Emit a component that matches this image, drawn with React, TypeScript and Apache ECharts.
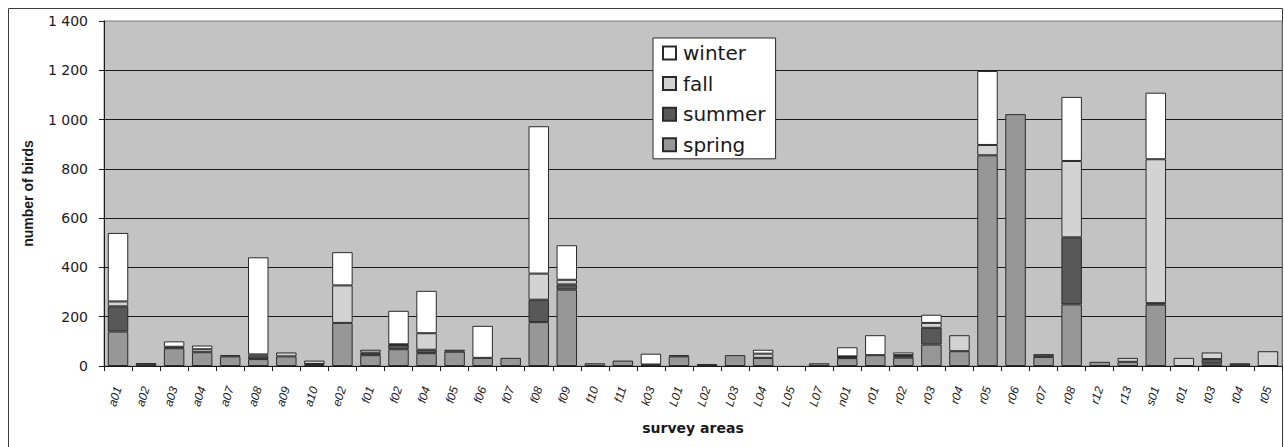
import React, { useEffect, useRef } from "react";
import * as echarts from "echarts";

const categories = [
  "a01", "a02", "a03", "a04", "a07", "a08", "a09", "a10", "e02", "f01",
  "f02", "f04", "f05", "f06", "f07", "f08", "f09", "f10", "f11", "k03",
  "L01", "L02", "L03", "L04", "L05", "L07", "n01", "r01", "r02", "r03",
  "r04", "r05", "r06", "r07", "r08", "r12", "r13", "s01", "t01", "t03",
  "t04", "t05",
];

const spring = [
  140, 2, 72, 56, 39, 28, 39, 4, 175, 44,
  68, 52, 58, 33, 33, 178, 310, 11, 22, 3,
  39, 3, 44, 33, 0, 11, 32, 44, 34, 87,
  60, 855, 1022, 37, 250, 17, 17, 249, 0, 10,
  2, 0,
];

const summer = [
  102, 10, 6, 0, 5, 11, 0, 4, 0, 10,
  17, 14, 8, 0, 0, 91, 21, 0, 0, 3,
  5, 5, 0, 0, 0, 0, 5, 0, 6, 68,
  0, 0, 0, 11, 272, 0, 0, 6, 0, 18,
  9, 0,
];

const fall = [
  20, 0, 0, 12, 0, 8, 16, 14, 152, 12,
  3, 67, 0, 0, 0, 106, 19, 0, 0, 0,
  0, 0, 0, 17, 0, 0, 2, 0, 4, 20,
  65, 42, 0, 0, 310, 0, 16, 584, 33, 27,
  0, 60,
];

const winter = [
  278, 0, 22, 15, 0, 394, 0, 0, 135, 0,
  136, 172, 0, 130, 0, 598, 140, 0, 0, 44,
  0, 0, 0, 16, 0, 0, 37, 81, 11, 33,
  0, 300, 0, 0, 260, 0, 0, 270, 0, 0,
  0, 0,
];

const seasonColors: Record<string, string> = {
  spring: "#979797",
  summer: "#585858",
  fall: "#d3d3d3",
  winter: "#ffffff",
};

export default function App() {
  const ref = useRef<HTMLDivElement>(null);

  useEffect(() => {
    if (!ref.current) return;
    const chart = echarts.init(ref.current, undefined, { renderer: "svg" });

    const mk = (name: string, values: number[]) => ({
      name,
      type: "bar",
      stack: "total",
      barCategoryGap: "27%",
      data: values.map((v) => (v === 0 ? null : v)),
      itemStyle: {
        color: seasonColors[name],
        borderColor: "#2a2a2a",
        borderWidth: 1,
      },
      emphasis: { disabled: true },
    });

    const option = {
      animation: false,
      backgroundColor: "#ffffff",
      graphic: [
        {
          type: "rect",
          shape: { x: 8.5, y: 8.5, width: 1274, height: 470 },
          style: { fill: "none", stroke: "#3a3a3a", lineWidth: 1 },
          silent: true,
          z: -1,
        },
      ],
      grid: {
        left: 104,
        top: 21,
        width: 1178,
        height: 345,
        show: true,
        backgroundColor: "#c3c3c3",
        borderColor: "#8a8a8a",
        borderWidth: 1,
      },
      legend: {
        orient: "vertical",
        left: 653,
        top: 38,
        data: ["winter", "fall", "summer", "spring"],
        itemWidth: 13,
        itemHeight: 13,
        itemGap: 10.6,
        icon: "rect",
        padding: [5, 10, 4, 9],
        backgroundColor: "#ffffff",
        borderColor: "#2a2a2a",
        borderWidth: 1,
        borderRadius: 0,
        selectedMode: false,
        textStyle: {
          fontFamily: "DejaVu Sans",
          fontSize: 20,
          lineHeight: 20,
          color: "#1a1a1a",
          padding: [0, 0, 0, 2],
        },
      },
      xAxis: {
        type: "category",
        data: categories,
        name: "survey areas",
        nameLocation: "middle",
        nameGap: 55,
        nameTextStyle: {
          fontFamily: "DejaVu Sans",
          fontWeight: "bold",
          fontSize: 14,
          color: "#1a1a1a",
        },
        axisLine: { show: true, lineStyle: { color: "#1a1a1a", width: 1 } },
        axisTick: { show: true, length: 5, lineStyle: { color: "#1a1a1a" } },
        axisLabel: {
          interval: 0,
          rotate: 72,
          margin: 21,
          padding: [0, 0, 14, 0],
          fontFamily: "Liberation Sans",
          fontStyle: "italic",
          fontSize: 12,
          color: "#1a1a1a",
        },
        splitLine: { show: false },
      },
      yAxis: {
        type: "value",
        min: 0,
        max: 1400,
        interval: 200,
        name: "number of birds",
        nameLocation: "middle",
        nameGap: 69,
        nameTextStyle: {
          fontFamily: "Liberation Sans",
          fontWeight: "bold",
          fontSize: 14,
          color: "#1a1a1a",
        },
        axisLine: { show: true, lineStyle: { color: "#1a1a1a", width: 1 } },
        axisTick: { show: true, length: 5, lineStyle: { color: "#1a1a1a" } },
        axisLabel: {
          margin: 16,
          fontFamily: "DejaVu Sans",
          fontSize: 14,
          color: "#1a1a1a",
          formatter: (v: number) =>
            v >= 1000 ? String(v).replace(/^(\d)(\d{3})$/, "$1 $2") : String(v),
        },
        splitLine: {
          show: true,
          lineStyle: {
            color: ["#1a1a1a", "#1a1a1a", "#1a1a1a", "#1a1a1a", "#1a1a1a", "#1a1a1a", "#1a1a1a", "#9a9a9a"],
            width: 1,
          },
        },
      },
      series: [
        mk("spring", spring),
        mk("summer", summer),
        mk("fall", fall),
        mk("winter", winter),
      ],
    };

    chart.setOption(option as any);
    return () => chart.dispose();
  }, []);

  return (
    <div
      ref={ref}
      style={{ position: "fixed", left: 0, top: 0, width: 1284, height: 447 }}
    />
  );
}
